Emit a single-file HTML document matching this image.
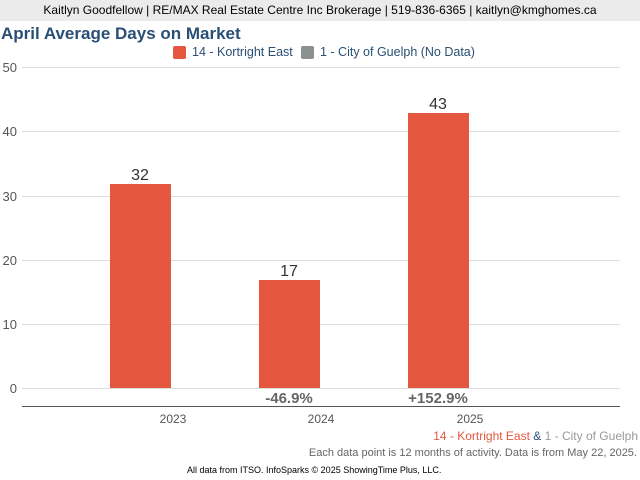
<!DOCTYPE html>
<html><head><style>
body{margin:0;width:640px;height:480px;background:#fff;font-family:"Liberation Sans",sans-serif;position:relative;overflow:hidden}
.a{position:absolute;white-space:nowrap}
</style></head><body>
<div class="a" style="left:0;top:0;width:640px;height:21px;background:#ebebeb;text-align:center;font-size:12px;line-height:21px;color:#000">Kaitlyn Goodfellow | RE/MAX Real Estate Centre Inc Brokerage | 519-836-6365 | kaitlyn@kmghomes.ca</div>
<div class="a" style="left:1px;top:24px;font-size:17px;font-weight:bold;color:#2a4f75">April Average Days on Market</div>
<div class="a" style="left:173px;top:46px;width:13px;height:13px;background:#e5573f;border-radius:2px"></div>
<div class="a" style="left:192px;top:45px;font-size:12.5px;color:#2a4f75">14 - Kortright East</div>
<div class="a" style="left:301px;top:46px;width:13px;height:13px;background:#8a9190;border-radius:2px"></div>
<div class="a" style="left:320px;top:45px;font-size:12.5px;color:#2a4f75">1 - City of Guelph (No Data)</div>
<svg class="a" style="left:0;top:0" width="640" height="480">
<g stroke="#ddd" stroke-width="1">
<line x1="22" x2="620" y1="67.5" y2="67.5"/><line x1="22" x2="620" y1="131.5" y2="131.5"/>
<line x1="22" x2="620" y1="196.5" y2="196.5"/><line x1="22" x2="620" y1="260.5" y2="260.5"/>
<line x1="22" x2="620" y1="324.5" y2="324.5"/><line x1="22" x2="620" y1="388.5" y2="388.5"/>
</g>
<line x1="22" x2="620" y1="406.5" y2="406.5" stroke="#555"/>
<g font-size="13" fill="#555" text-anchor="end">
<text x="17" y="72">50</text><text x="17" y="136">40</text><text x="17" y="201">30</text>
<text x="17" y="265">20</text><text x="17" y="329">10</text><text x="17" y="393">0</text>
</g>
<g fill="#e5573f">
<rect x="110" y="184" width="61" height="204"/>
<rect x="259" y="280" width="61" height="108"/>
<rect x="408" y="113" width="61" height="275"/>
</g>
<g font-size="16" fill="#333" text-anchor="middle">
<text x="140" y="180">32</text><text x="289" y="276">17</text><text x="438" y="109">43</text>
</g>
<g font-size="15" font-weight="bold" fill="#666" text-anchor="middle">
<text x="289" y="403">-46.9%</text><text x="438" y="403">+152.9%</text>
</g>
<g font-size="12" fill="#555" text-anchor="middle">
<text x="173" y="423">2023</text><text x="321" y="423">2024</text><text x="470" y="423">2025</text>
</g>
<text x="638" y="440" font-size="12" text-anchor="end"><tspan fill="#e5573f">14 - Kortright East</tspan><tspan fill="#2a4f75"> &amp; </tspan><tspan fill="#999">1 - City of Guelph</tspan></text>
<text x="637" y="456" font-size="11" fill="#666" text-anchor="end">Each data point is 12 months of activity. Data is from May 22, 2025.</text>
<text x="187" y="473" font-size="9" fill="#000">All data from ITSO. InfoSparks © 2025 ShowingTime Plus, LLC.</text>
</svg>
</body></html>
